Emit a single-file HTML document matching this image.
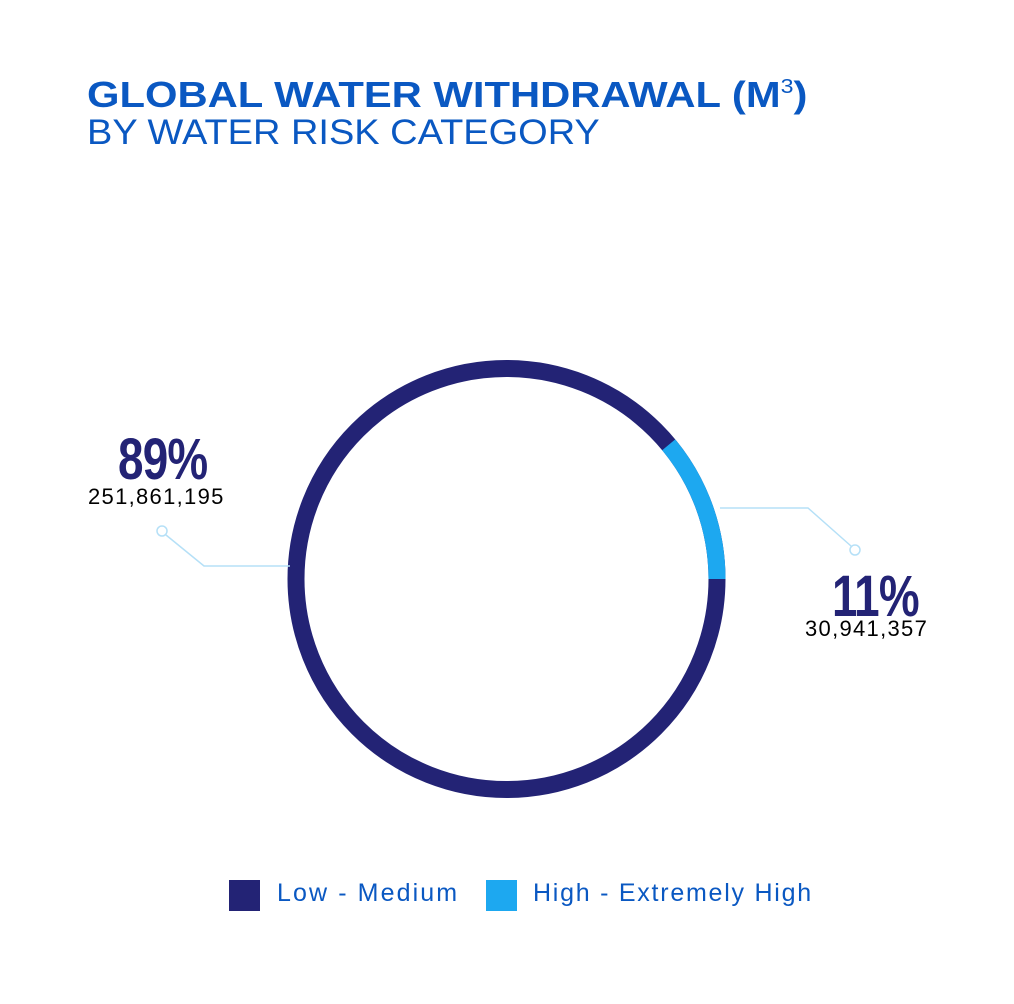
<!DOCTYPE html>
<html><head><style>
body{margin:0;background:#fff;}
.c{position:relative;width:1014px;height:1004px;overflow:hidden;font-family:"Liberation Sans",sans-serif;}
.t{position:absolute;white-space:nowrap;transform-origin:left top;}
</style></head><body><div class="c">
<div class="t" style="left:87px;top:74px;font-size:36px;font-weight:bold;color:#0a58c2;transform:scaleX(1.16);">GLOBAL WATER WITHDRAWAL (M<span style="font-size:20px;font-weight:normal;vertical-align:14px;">3</span>)</div>
<div class="t" style="left:87px;top:113px;font-size:35px;color:#0a58c2;transform:scaleX(1.085);">BY WATER RISK CATEGORY</div>
<svg width="1014" height="1004" style="position:absolute;left:0;top:0">
<circle cx="506.5" cy="579" r="210.5" fill="none" stroke="#232375" stroke-width="17"/>
<path d="M717 579 A210.5 210.5 0 0 0 668.7 444.8" fill="none" stroke="#1da8f0" stroke-width="17"/>
<polyline points="166,535 204,566 290,566" fill="none" stroke="#b5e0f7" stroke-width="1.5"/>
<circle cx="162" cy="531" r="5" fill="#fff" stroke="#b5e0f7" stroke-width="1.5"/>
<polyline points="720,508 808,508 851,546" fill="none" stroke="#b5e0f7" stroke-width="1.5"/>
<circle cx="855" cy="550" r="5" fill="#fff" stroke="#b5e0f7" stroke-width="1.5"/>
<rect x="229" y="880" width="31" height="31" fill="#232375"/>
<rect x="486" y="880" width="31" height="31" fill="#1da8f0"/>
</svg>
<div class="t" style="left:118px;top:426px;font-size:58px;font-weight:bold;color:#232375;transform:scaleX(0.79);letter-spacing:-1px;">89%</div>
<div class="t" style="left:88px;top:484px;font-size:22px;color:#000;letter-spacing:1.3px;">251,861,195</div>
<div class="t" style="left:832px;top:563px;font-size:58px;font-weight:bold;color:#232375;transform:scaleX(0.79);letter-spacing:-1px;">11%</div>
<div class="t" style="left:805px;top:616px;font-size:22px;color:#000;letter-spacing:1.3px;">30,941,357</div>
<div class="t" style="left:277px;top:879px;font-size:25px;color:#0a58c2;letter-spacing:2.1px;">Low - Medium</div>
<div class="t" style="left:533px;top:879px;font-size:25px;color:#0a58c2;letter-spacing:1.75px;">High - Extremely High</div>
</div></body></html>
